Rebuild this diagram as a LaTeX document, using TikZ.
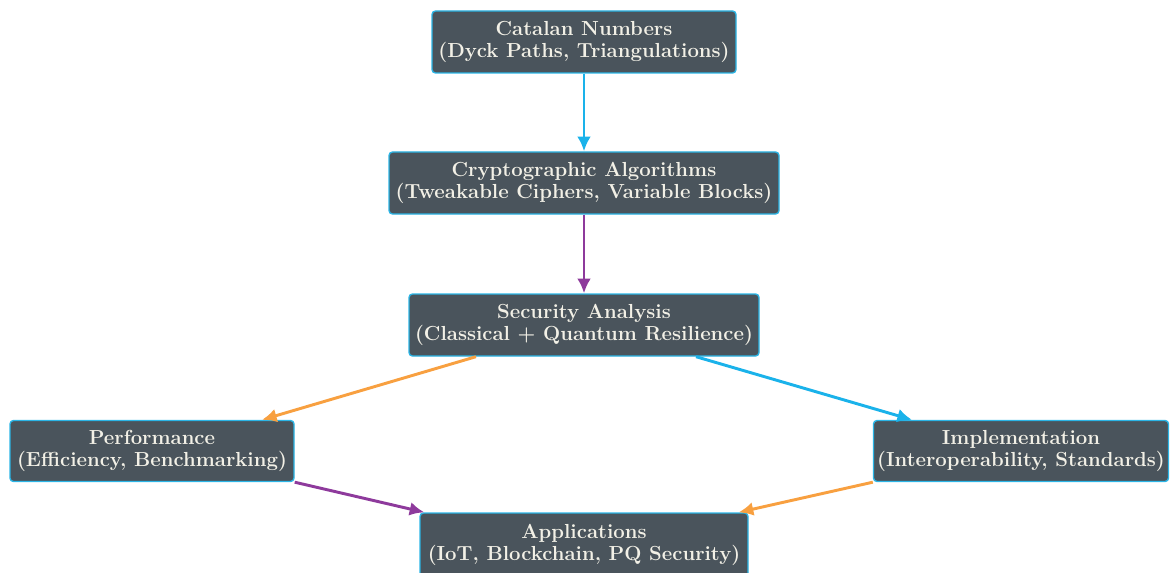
\documentclass[tikz,border=0pt]{standalone}
\usetikzlibrary{arrows.meta,calc}
\definecolor{boxfill}{HTML}{4A545C}
\definecolor{boxline}{HTML}{2BB5E6}
\definecolor{txt}{HTML}{F2F0E6}
\definecolor{acyan}{HTML}{1AB2EA}
\definecolor{apurple}{HTML}{8E3A9C}
\definecolor{aorange}{HTML}{F8A040}
\tikzset{
  box/.style={draw=boxline, line width=0.8pt, fill=boxfill, rounded corners=2pt,
    text=txt, font=\bfseries\fontsize{11.8}{12.8}\selectfont, align=center, inner sep=0pt},
  conn/.style={line width=1.7pt, -{Latex[length=8.5pt,width=8pt]}}
}
\begin{document}
\begin{tikzpicture}[x=0.58pt,y=-0.58pt]
\useasboundingbox (0,0) rectangle (1171,572);
\node[box, minimum width=304*0.58pt, minimum height=62*0.58pt] (cat) at (584,42) {Catalan Numbers\\(Dyck Paths, Triangulations)};
\node[box, minimum width=390*0.58pt, minimum height=62*0.58pt] (cry) at (584,183) {Cryptographic Algorithms\\(Tweakable Ciphers, Variable Blocks)};
\node[box, minimum width=350*0.58pt, minimum height=62*0.58pt] (sec) at (584,325) {Security Analysis\\(Classical + Quantum Resilience)};
\node[box, minimum width=284*0.58pt, minimum height=61*0.58pt] (perf) at (152,451) {Performance\\(Efficiency, Benchmarking)};
\node[box, minimum width=295*0.58pt, minimum height=61*0.58pt] (impl) at (1021,451) {Implementation\\(Interoperability, Standards)};
\node[box, minimum width=328*0.58pt, minimum height=64*0.58pt] (app) at (584,545) {Applications\\(IoT, Blockchain, PQ Security)};
\draw[conn, acyan] (cat) -- (cry);
\draw[conn, apurple] (cry) -- (sec);
\draw[conn, aorange] ([xshift=-108*0.58pt]sec.south) -- ([xshift=110*0.58pt]perf.north);
\draw[conn, acyan] ([xshift=112*0.58pt]sec.south) -- ([xshift=-109*0.58pt]impl.north);
\draw[conn, apurple] (perf.south east) -- ([xshift=5*0.58pt]app.north west);
\draw[conn, aorange] (impl.south west) -- ([xshift=-10*0.58pt]app.north east);
\end{tikzpicture}
\end{document}
